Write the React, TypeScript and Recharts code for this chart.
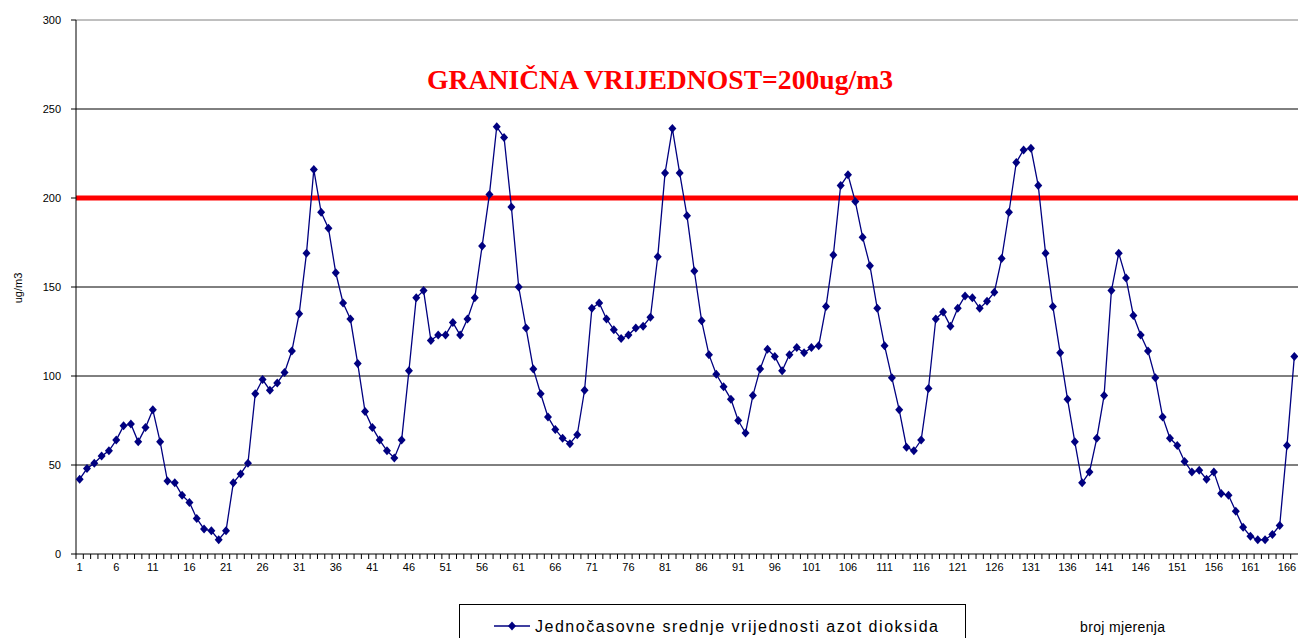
import React from 'react';
import { LineChart, Line, XAxis, YAxis, ReferenceLine } from 'recharts';

// hourly NO2 values (ug/m3), measurement 1..167
const measurements = Array.from({ length: 167 }, (_, i) => i + 1);
const no2Values = [
  42, 48, 51, 55, 58, 64, 72, 73, 63, 71,
  81, 63, 41, 40, 33, 29, 20, 14, 13, 8,
  13, 40, 45, 51, 90, 98, 92, 96, 102, 114,
  135, 169, 216, 192, 183, 158, 141, 132, 107, 80,
  71, 64, 58, 54, 64, 103, 144, 148, 120, 123,
  123, 130, 123, 132, 144, 173, 202, 240, 234, 195,
  150, 127, 104, 90, 77, 70, 65, 62, 67, 92,
  138, 141, 132, 126, 121, 123, 127, 128, 133, 167,
  214, 239, 214, 190, 159, 131, 112, 101, 94, 87,
  75, 68, 89, 104, 115, 111, 103, 112, 116, 113,
  116, 117, 139, 168, 207, 213, 198, 178, 162, 138,
  117, 99, 81, 60, 58, 64, 93, 132, 136, 128,
  138, 145, 144, 138, 142, 147, 166, 192, 220, 227,
  228, 207, 169, 139, 113, 87, 63, 40, 46, 65,
  89, 148, 169, 155, 134, 123, 114, 99, 77, 65,
  61, 52, 46, 47, 42, 46, 34, 33, 24, 15,
  10, 8, 8, 11, 16, 61, 111,
];
const yTicks = [0, 50, 100, 150, 200, 250, 300];
const gridValues = [50, 100, 150, 200, 250];
const LIMIT = 200;

const data = measurements.map((n, i) => ({ n, value: no2Values[i] }));

const W = 1298;
const H = 638;
const PLOT_LEFT = 76;
const STEP = (W - PLOT_LEFT) / measurements.length;
const NAVY = '#000080';
const FONT = '"Liberation Sans", Arial, sans-serif';

const XTick = (props: any) => {
  const { x, y, payload } = props;
  const n = payload.value;
  return (
    <g>
      <line x1={x - STEP / 2} x2={x - STEP / 2} y1={y} y2={y + 5} stroke="#000" />
      {(n - 1) % 5 === 0 && (
        <text x={x} y={y + 17} textAnchor="middle" fontSize={11} fontFamily={FONT} fill="#000">
          {n}
        </text>
      )}
    </g>
  );
};

const Diamond = (props: any) => {
  const { cx, cy, index } = props;
  if (cx == null || cy == null) return <g key={index} />;
  return (
    <path
      key={index}
      d={`M${cx},${cy - 4.5} L${cx + 4},${cy} L${cx},${cy + 4.5} L${cx - 4},${cy} Z`}
      fill={NAVY}
    />
  );
};

export default function App() {
  return (
    <div
      style={{
        position: 'absolute',
        left: 0,
        top: 0,
        width: W,
        height: H,
        overflow: 'hidden',
        background: '#fff',
      }}
    >
      <LineChart width={W} height={H} data={data} margin={{ top: 20, right: 0, bottom: 54, left: 0 }}>
        <XAxis
          dataKey="n"
          type="number"
          domain={[0.5, measurements.length + 0.5]}
          ticks={measurements}
          interval={0}
          tick={<XTick />}
          tickLine={false}
          tickSize={0}
          tickMargin={0}
          axisLine={{ stroke: '#000' }}
          height={30}
        />
        <YAxis
          domain={[0, 300]}
          ticks={yTicks}
          interval={0}
          width={PLOT_LEFT}
          tickSize={5}
          tickMargin={10}
          tick={{ fontSize: 11, fontFamily: FONT, fill: '#000' }}
          tickLine={{ stroke: '#000' }}
          axisLine={{ stroke: '#000' }}
        />
        <ReferenceLine y={300} stroke="#808080" />
        {gridValues.map((g) => (
          <ReferenceLine key={g} y={g} stroke="#000" />
        ))}
        <ReferenceLine y={LIMIT} stroke="#ff0000" strokeWidth={5} />
        <Line
          dataKey="value"
          stroke={NAVY}
          strokeWidth={1.3}
          dot={<Diamond />}
          activeDot={false}
          isAnimationActive={false}
        />
      </LineChart>
      <svg
        width={W}
        height={H}
        style={{ position: 'absolute', left: 0, top: 0, pointerEvents: 'none' }}
      >
        <text
          x={660}
          y={89}
          textAnchor="middle"
          fontSize={27}
          fontWeight="bold"
          fontFamily='"Liberation Serif", "Times New Roman", serif'
          fill="#ff0000"
          textLength={466}
          lengthAdjust="spacingAndGlyphs"
        >
          GRANIČNA VRIJEDNOST=200ug/m3
        </text>
        <text
          x={22}
          y={288}
          textAnchor="middle"
          fontSize={11}
          fontFamily={FONT}
          fill="#000"
          transform="rotate(-90 22 288)"
        >
          ug/m3
        </text>
        <rect x={459.5} y={604.5} width={506} height={40} fill="#fff" stroke="#000" />
        <line x1={494} x2={530} y1={626} y2={626} stroke={NAVY} strokeWidth={1.5} />
        <path d="M512,621.5 L516,626 L512,630.5 L508,626 Z" fill={NAVY} />
        <text
          x={535}
          y={632}
          fontSize={16}
          fontFamily={FONT}
          fill="#000"
          textLength={403}
          lengthAdjust="spacing"
        >
          Jednočasovne srednje vrijednosti azot dioksida
        </text>
        <text
          x={1080}
          y={632}
          fontSize={14}
          fontFamily={FONT}
          fill="#000"
          textLength={85}
          lengthAdjust="spacing"
        >
          broj mjerenja
        </text>
      </svg>
    </div>
  );
}
